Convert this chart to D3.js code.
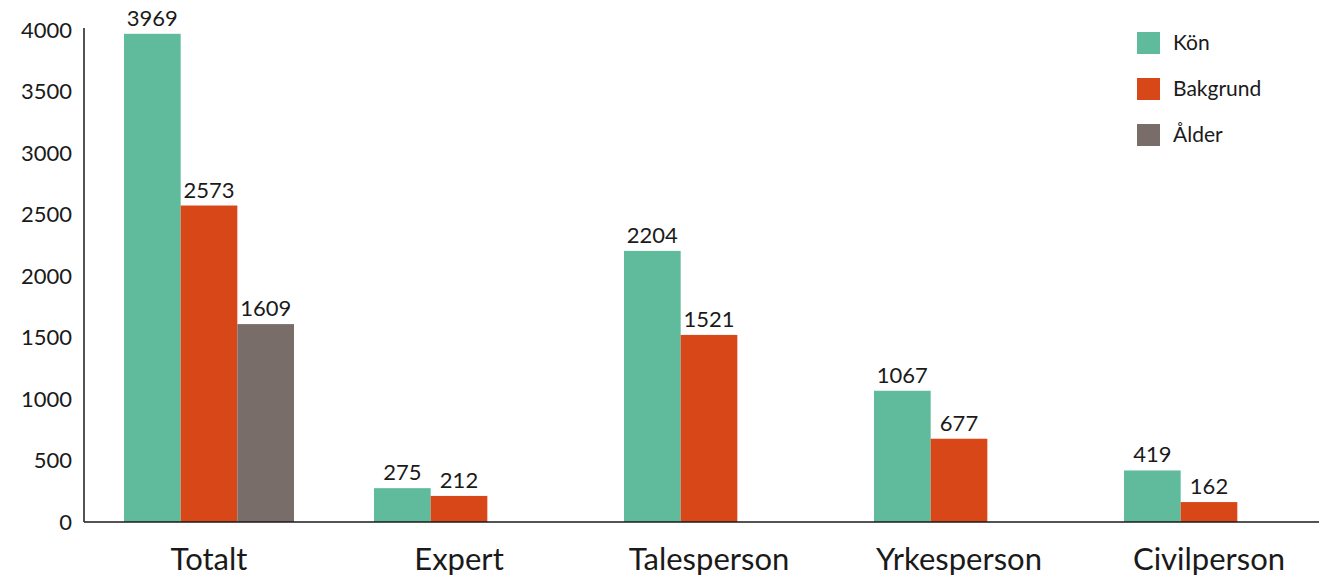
<!DOCTYPE html>
<html>
<head>
<meta charset="utf-8">
<script src="https://cdn.jsdelivr.net/npm/d3@7"></script>
<style>
  body { margin: 0; background: #fff; }
  svg { font-family: Lato, "Noto Sans", sans-serif; }
  .domain { stroke: #1a1a1a; stroke-width: 1.5px; }
</style>
</head>
<body>
<svg id="chart" width="1319" height="578"></svg>
<script>
var categories = ['Totalt', 'Expert', 'Talesperson', 'Yrkesperson', 'Civilperson'];
var series = ['Kön', 'Bakgrund', 'Ålder'];
var konValues = [3969, 275, 2204, 1067, 419];
var bakgrundValues = [2573, 212, 1521, 677, 162];
var alderValues = [1609, null, null, null, null];
var yTicks = [0, 500, 1000, 1500, 2000, 2500, 3000, 3500, 4000];
var colors = ['#5fbb9b', '#d84717', '#786d69'];

var svg = d3.select('#chart');
var width = 1319, height = 578;
var plotLeft = 84, plotBottom = 522, plotTop = 30;

// one row per category with the three series values
var rows = categories.map(function (c, i) {
  return { name: c, values: [konValues[i], bakgrundValues[i], alderValues[i]] };
});

var x0 = d3.scaleBand().domain(categories).range([plotLeft, plotLeft + 1250]).padding(0);
var x1 = d3.scaleBand().domain(series).range([0, x0.bandwidth()])
  .paddingInner(0).paddingOuter(0.706);
var y = d3.scaleLinear().domain([0, 4000]).range([plotBottom, plotTop]);

// bars
var groups = svg.append('g').selectAll('g')
  .data(rows)
  .enter().append('g')
  .attr('transform', function (d) { return 'translate(' + x0(d.name) + ',0)'; });

groups.selectAll('rect')
  .data(function (d) {
    return d.values.map(function (v, i) { return { key: series[i], value: v, i: i }; })
      .filter(function (e) { return e.value != null; });
  })
  .enter().append('rect')
  .attr('x', function (d) { return x1(d.key); })
  .attr('y', function (d) { return y(d.value); })
  .attr('width', x1.bandwidth())
  .attr('height', function (d) { return plotBottom - y(d.value); })
  .style('fill', function (d) { return colors[d.i]; });

// value labels above bars
groups.selectAll('text')
  .data(function (d) {
    return d.values.map(function (v, i) { return { key: series[i], value: v }; })
      .filter(function (e) { return e.value != null; });
  })
  .enter().append('text')
  .attr('x', function (d) { return x1(d.key) + x1.bandwidth() / 2; })
  .attr('y', function (d) { return y(d.value) - 8; })
  .attr('text-anchor', 'middle')
  .style('font-size', '22px')
  .style('fill', '#1a1a1a')
  .text(function (d) { return d.value; });

// y axis
var yAxis = svg.append('g')
  .attr('transform', 'translate(' + plotLeft + ',0)')
  .call(d3.axisLeft(y).tickValues(yTicks).tickSize(0).tickPadding(12).tickFormat(d3.format('d')));
yAxis.select('.domain').attr('d', 'M0,' + (plotTop - 2) + 'V' + plotBottom);
yAxis.selectAll('text').style('font-size', '22px').style('fill', '#1a1a1a').style('font-family', 'Lato, sans-serif');

// x axis
var xAxis = svg.append('g')
  .attr('transform', 'translate(0,' + plotBottom + ')')
  .call(d3.axisBottom(x0).tickSize(0).tickPadding(26));
xAxis.select('.domain').attr('d', 'M' + plotLeft + ',0H' + width);
xAxis.selectAll('text').style('font-size', '31px').style('fill', '#1a1a1a').style('font-family', 'Lato, sans-serif');

// legend
var legend = svg.append('g').selectAll('g')
  .data(series)
  .enter().append('g')
  .attr('transform', function (d, i) { return 'translate(1137,' + (32 + i * 46) + ')'; });
legend.append('rect')
  .attr('width', 23).attr('height', 22)
  .style('fill', function (d, i) { return colors[i]; });
legend.append('text')
  .attr('x', 36).attr('y', 11).attr('dy', '0.35em')
  .style('font-size', '21px').style('fill', '#1a1a1a')
  .text(function (d) { return d; });
</script>
</body>
</html>
